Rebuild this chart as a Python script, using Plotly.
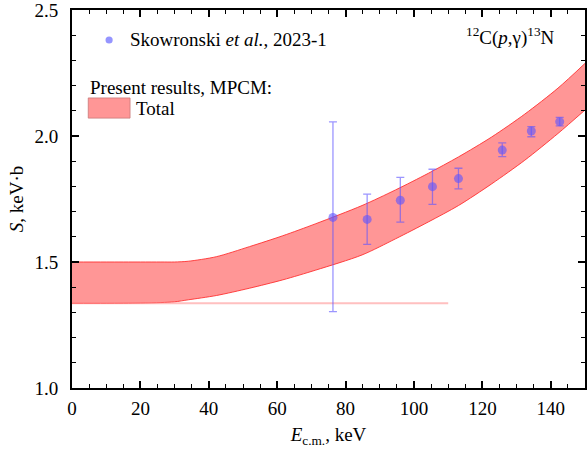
import plotly.graph_objects as go

# ---- data ----
band_E = [0, 10, 20, 26, 30, 34, 42.2, 51.9, 61.6, 71.3, 84.8, 94.6, 104.2,
          113.0, 122.7, 132.4, 142.1, 150]
band_upper = [1.500, 1.500, 1.500, 1.500, 1.500, 1.503, 1.521, 1.561, 1.604, 1.652,
              1.724, 1.786, 1.852, 1.917, 1.996, 2.087, 2.190, 2.288]
band_lower = [1.336, 1.336, 1.337, 1.339, 1.342, 1.350, 1.367, 1.396, 1.429, 1.468,
              1.528, 1.592, 1.659, 1.724, 1.810, 1.904, 2.010, 2.103]

line_E = [0, 110]
line_S = [1.336, 1.336]

exp_E = [76.3, 86.3, 96.0, 105.4, 113.0, 125.8, 134.3, 142.6]
exp_S = [1.677, 1.669, 1.745, 1.799, 1.831, 1.944, 2.020, 2.057]
exp_err_plus = [0.379, 0.100, 0.091, 0.069, 0.041, 0.029, 0.017, 0.017]
exp_err_minus = [0.374, 0.099, 0.087, 0.070, 0.041, 0.026, 0.023, 0.017]

x_ticks = [0, 20, 40, 60, 80, 100, 120, 140]
y_ticks = [1.0, 1.5, 2.0, 2.5]

FONT = "Liberation Serif"
FS = 19
band_fill = "rgba(255,120,120,0.78)"
band_edge = "rgba(255,50,50,0.9)"
pt_color = "rgba(95,85,255,0.62)"

fig = go.Figure()

fig.add_trace(go.Scatter(x=band_E, y=band_lower, mode="lines",
                         line=dict(color=band_edge, width=1, shape="spline", smoothing=0.8),
                         showlegend=False, hoverinfo="skip"))
fig.add_trace(go.Scatter(x=band_E, y=band_upper, mode="lines",
                         line=dict(color=band_edge, width=1, shape="spline", smoothing=0.8),
                         fill="tonexty", fillcolor=band_fill, showlegend=False,
                         hoverinfo="skip"))
fig.add_trace(go.Scatter(x=line_E, y=line_S, mode="lines",
                         line=dict(color="rgba(255,140,140,0.55)", width=2),
                         showlegend=False, hoverinfo="skip"))
fig.add_trace(go.Scatter(x=exp_E, y=exp_S, mode="markers",
                         marker=dict(color=pt_color, size=9, line=dict(width=0)),
                         error_y=dict(type="data", symmetric=False,
                                      array=exp_err_plus, arrayminus=exp_err_minus,
                                      color=pt_color, thickness=1.3, width=4),
                         showlegend=False))

axis_common = dict(showline=True, linecolor="black", linewidth=1.8, mirror="ticks",
                   ticks="inside", ticklen=7, tickwidth=1.5, tickcolor="black",
                   showgrid=False, zeroline=False, ticklabeloverflow="allow",
                   tickfont=dict(family=FONT, size=FS, color="black"))

fig.update_xaxes(range=[0, 150], tickvals=x_ticks, ticktext=[str(v) for v in x_ticks],
                 minor=dict(dtick=5, tick0=0, ticks="inside", ticklen=4, tickwidth=1,
                            tickcolor="black"),
                 title=dict(text="<i>E</i><sub>c.m.</sub>, keV",
                            font=dict(family=FONT, size=FS, color="black"), standoff=10),
                 ticklabelstandoff=2,
                 **axis_common)
fig.update_yaxes(range=[1.0, 2.5], tickvals=y_ticks, ticktext=[f"{v:.1f}" for v in y_ticks],
                 minor=dict(dtick=0.1, tick0=1.0, ticks="inside", ticklen=4, tickwidth=1,
                            tickcolor="black"),
                 title=dict(text="<i>S</i>, keV·b",
                            font=dict(family=FONT, size=FS, color="black"), standoff=6),
                 ticklabelstandoff=8,
                 **axis_common)

# legend (drawn manually)
annotations = [
    dict(x=16.4, y=2.381, xref="x", yref="y", xanchor="left", yanchor="middle",
         text="Skowronski <i>et al.</i>, 2023-1", showarrow=False,
         font=dict(family=FONT, size=FS, color="black")),
    dict(x=4.75, y=2.194, xref="x", yref="y", xanchor="left", yanchor="middle",
         text="Present results, MPCM:", showarrow=False,
         font=dict(family=FONT, size=FS, color="black")),
    dict(x=18.0, y=2.111, xref="x", yref="y", xanchor="left", yanchor="middle",
         text="Total", showarrow=False,
         font=dict(family=FONT, size=FS, color="black")),
    dict(x=141.8, y=2.393, xref="x", yref="y", xanchor="right", yanchor="middle",
         text="<sup>12</sup>C(<i>p</i>,γ)<sup>13</sup>N", showarrow=False,
         font=dict(family=FONT, size=FS, color="black")),
]
shapes = [
    dict(type="rect", xref="x", yref="y", x0=4.75, x1=16.97, y0=2.071, y1=2.151,
         fillcolor=band_fill, line=dict(color="rgba(200,120,120,0.8)", width=1)),
    dict(type="circle", xref="x", yref="y", x0=9.8, x1=11.9, y0=2.367, y1=2.395,
         fillcolor="rgba(130,130,255,0.85)", line=dict(width=0)),
]

fig.update_layout(width=587, height=455, margin=dict(l=72, r=0, t=10, b=67),
                  paper_bgcolor="white", plot_bgcolor="white",
                  annotations=annotations, shapes=shapes,
                  font=dict(family=FONT, size=FS, color="black"),
                  showlegend=False)

fig.write_html("out.html")
